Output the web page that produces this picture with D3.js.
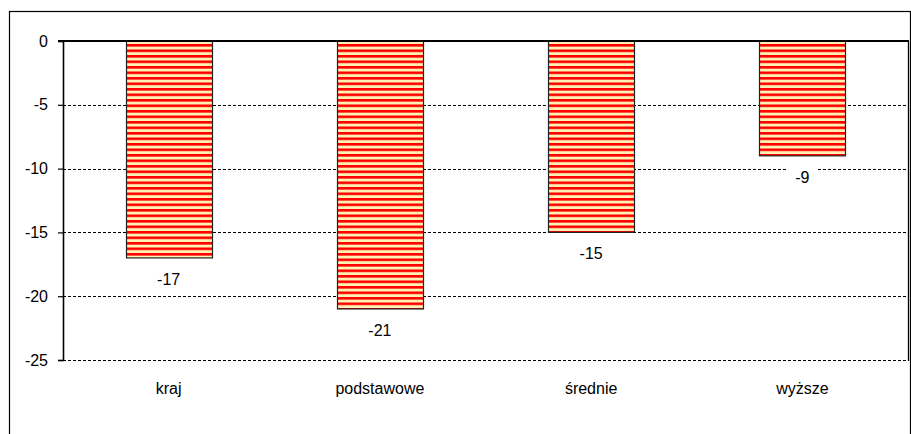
<!DOCTYPE html>
<html>
<head>
<meta charset="utf-8">
<script src="https://cdn.jsdelivr.net/npm/d3@7"></script>
<style>
  html, body { margin: 0; padding: 0; background: #fff; }
  svg { display: block; font-family: "Liberation Sans", Arial, sans-serif; }
</style>
</head>
<body>
<svg id="chart" width="911" height="434"></svg>
<script>
// Change by level of education (values are negative)
const categories = ["kraj", "podstawowe", "średnie", "wyższe"];
const values = [-17, -21, -15, -9];
const yTicks = [0, -5, -10, -15, -20, -25];

const svg = d3.select("#chart");
const W = 911, H = 434;
const plot = { left: 63, top: 41, right: 908, bottom: 360 };

// outer chart frame (runs off the right and bottom edges)
svg.append("rect")
  .attr("x", 9.5).attr("y", 11.5)
  .attr("width", 901).attr("height", 440)
  .attr("fill", "#fff").attr("stroke", "#000").attr("stroke-width", 1.2);

// striped fill for the bars
const defs = svg.append("defs");
const pat = defs.append("pattern")
  .attr("id", "stripes")
  .attr("patternUnits", "userSpaceOnUse")
  .attr("width", 8).attr("height", 5.5);
pat.append("rect").attr("x", 0).attr("y", 0).attr("width", 8).attr("height", 5.5).attr("fill", "#FFF0B4");
pat.append("rect").attr("x", 0).attr("y", 0).attr("width", 8).attr("height", 2.6).attr("fill", "#FF0000");

const y = d3.scaleLinear().domain([0, -25]).range([plot.top, plot.bottom]);
const x = d3.scaleBand().domain(categories)
  .range([plot.left, plot.right])
  .paddingInner(0.593).paddingOuter(0.2965);

// dashed gridlines
svg.append("g")
  .selectAll("line")
  .data(yTicks.filter(t => t !== 0))
  .join("line")
  .attr("x1", plot.left).attr("x2", plot.right)
  .attr("y1", d => Math.round(y(d)) + 0.5).attr("y2", d => Math.round(y(d)) + 0.5)
  .attr("stroke", "#000").attr("stroke-width", 1)
  .attr("stroke-dasharray", "3,2");

// right border of plot area
svg.append("line")
  .attr("x1", plot.right + 0.5).attr("x2", plot.right + 0.5)
  .attr("y1", plot.top).attr("y2", Math.round(plot.bottom) + 1)
  .attr("stroke", "#000").attr("stroke-width", 1.3);

// bars
svg.append("g")
  .selectAll("rect")
  .data(values)
  .join("rect")
  .attr("x", (d, i) => Math.round(x(categories[i])) + 0.5)
  .attr("y", y(0))
  .attr("width", Math.round(x.bandwidth()))
  .attr("height", d => y(d) - y(0))
  .attr("fill", "url(#stripes)")
  .attr("stroke", "#222").attr("stroke-width", 1.2);

// y axis
const yAxis = d3.axisLeft(y).tickValues(yTicks).tickSize(5).tickPadding(10)
  .tickFormat(d => d3.format("d")(d).replace("−", "-"));
const ya = svg.append("g").attr("transform", `translate(${plot.left},0)`).call(yAxis);
ya.select(".domain").attr("stroke", "#000").attr("stroke-width", 1.6);
ya.selectAll(".tick line").attr("stroke", "#000").attr("stroke-width", 1.2);
ya.selectAll(".tick text").attr("font-size", 16).attr("fill", "#000")
  .attr("font-family", "'Liberation Sans', Arial, sans-serif");

// zero line (category axis at top)
svg.append("line")
  .attr("x1", plot.left - 5).attr("x2", plot.right + 1)
  .attr("y1", y(0)).attr("y2", y(0))
  .attr("stroke", "#000").attr("stroke-width", 2.2);

// category labels
svg.append("g")
  .selectAll("text")
  .data(categories)
  .join("text")
  .attr("x", d => x(d) + x.bandwidth() / 2)
  .attr("y", 394)
  .attr("text-anchor", "middle")
  .attr("font-size", 16)
  .attr("fill", "#000")
  .text(d => d);

// value labels with white backgrounds
const lab = svg.append("g")
  .selectAll("g")
  .data(values)
  .join("g")
  .attr("transform", (d, i) => `translate(${x(categories[i]) + x.bandwidth() / 2},${y(d) + 27})`);
lab.append("rect")
  .attr("x", -15).attr("y", -15).attr("width", 30).attr("height", 19)
  .attr("fill", "#fff");
lab.append("text")
  .attr("text-anchor", "middle")
  .attr("font-size", 16)
  .attr("fill", "#000")
  .text(d => String(d));
</script>
</body>
</html>
